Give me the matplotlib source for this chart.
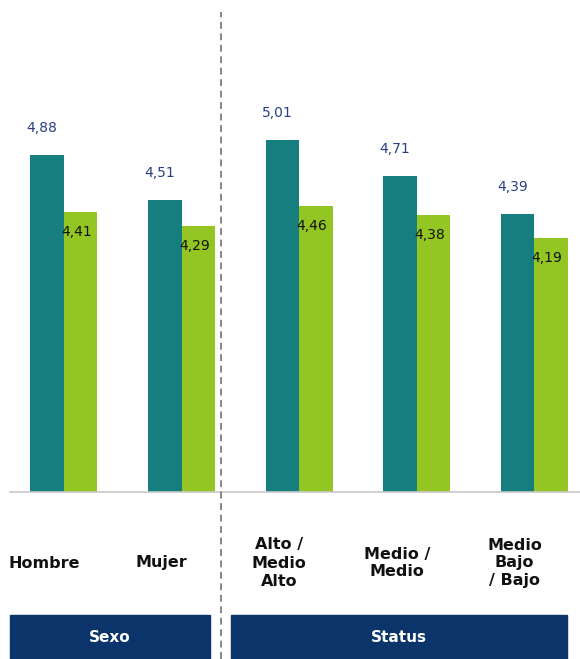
import matplotlib
matplotlib.use("Agg")
import matplotlib.pyplot as plt
import numpy as np
from matplotlib.patches import Rectangle
from matplotlib.lines import Line2D

# ---- data ----
categories = ["Hombre", "Mujer", "Alto /\nMedio\nAlto", "Medio /\nMedio", "Medio\nBajo\n/ Bajo"]
serie_a = [4.88, 4.51, 5.01, 4.71, 4.39]
serie_b = [4.41, 4.29, 4.46, 4.38, 4.19]
groups = ["Sexo", "Status"]

# ---- style ----
TEAL = "#177E80"
GREEN = "#93C623"
NAVY = "#0B356A"
LABEL_BLUE = "#2A3F82"

W, H = 580, 659
fig = plt.figure(figsize=(W / 100, H / 100), dpi=100)
ax = fig.add_axes([10 / W, (H - 492) / H, 1 - 10 / W, 492 / H])

x = np.arange(len(categories))
bw = 0.285
ax.bar(x - bw / 2, serie_a, width=bw, color=TEAL, zorder=2)
ax.bar(x + bw / 2, serie_b, width=bw, color=GREEN, zorder=2)

ax.set_xlim(-0.459, 4.388)
ax.set_ylim(2.064, 6.181)
for s in ["top", "right", "left"]:
    ax.spines[s].set_visible(False)
ax.spines["bottom"].set_color("#C8C8C8")
ax.spines["bottom"].set_linewidth(1.2)
ax.set_xticks([])
ax.set_yticks([])

fmt = lambda v: f"{v:.2f}".replace(".", ",")
for xi, a, b in zip(x, serie_a, serie_b):
    ax.annotate(fmt(a), (xi - bw / 2, a), xytext=(-5, 27), textcoords="offset pixels",
                ha="center", va="center", fontsize=10, color=LABEL_BLUE, zorder=3)
    ax.annotate(fmt(b), (xi + bw / 2, b), xytext=(-4, -20), textcoords="offset pixels",
                ha="center", va="center", fontsize=10, color="#111111", zorder=3)

# category labels (centered below teal bars)
for xi, cat in zip(x, categories):
    ax.annotate(cat, (xi - bw / 2, 2.064), xytext=(-3, -(563 - 492)), textcoords="offset pixels",
                ha="center", va="center", fontsize=11.5, fontweight="bold",
                color="#111111", linespacing=1.25, annotation_clip=False)

# group boxes (figure pixel coords)
boxes = [(10, 210), (231, 567)]
for (x0, x1), g in zip(boxes, groups):
    fig.patches.append(Rectangle((x0 / W, 0), (x1 - x0) / W, (H - 615) / H,
                                 transform=fig.transFigure, color=NAVY, zorder=1))
    fig.text((x0 + x1) / 2 / W, (H - 637) / H, g, ha="center", va="center",
             color="white", fontsize=11, fontweight="bold")

# dashed separator
fig.lines.append(Line2D([221 / W, 221 / W], [0, (H - 12) / H], transform=fig.transFigure,
                        color="#666666", linewidth=1.1, linestyle=(0, (4.5, 3))))

fig.savefig("out.png", dpi=100)
